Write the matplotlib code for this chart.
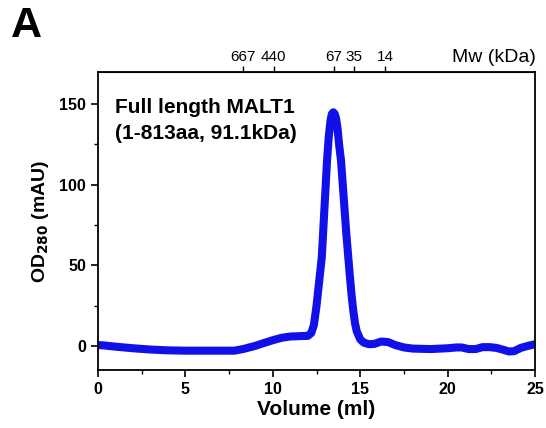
import matplotlib
matplotlib.use("Agg")
import matplotlib.pyplot as plt

plt.rcParams['font.family'] = ['Liberation Sans', 'DejaVu Sans']

volume = [0, 0.3, 1, 2, 3, 4, 5, 6, 7, 7.8, 8.3, 9, 9.5, 10, 10.5, 11, 11.5, 12,
          12.2, 12.35, 12.5, 12.65, 12.8, 13.0, 13.1, 13.2, 13.3, 13.38, 13.46, 13.54,
          13.62, 13.7, 13.8, 13.9, 14.0, 14.1, 14.2, 14.3, 14.4, 14.5, 14.6, 14.7,
          14.8, 15.0, 15.2, 15.5, 15.8, 16.2, 16.6, 17, 17.5, 18, 19, 20, 20.5,
          20.8, 21.2, 21.6, 22, 22.4, 22.8, 23.2, 23.5, 23.8, 24.2, 24.6, 25]
od280 = [0.5, 0.3, -0.5, -1.5, -2.3, -2.8, -3, -3, -3, -3, -2, 0, 1.8, 3.5, 5, 5.8, 6, 6.2,
         8, 13, 25, 40, 55, 95, 115, 130, 140, 144, 145, 144,
         141, 135, 124, 115, 100, 85, 70, 57, 44, 32, 22, 14,
         9, 4, 2, 1, 1.2, 2.7, 2.3, 0.5, -1, -1.7, -2, -1.5, -1,
         -1, -2, -2, -0.8, -0.8, -1.3, -2.5, -3.5, -3.3, -1.2, 0, 1]

mw_labels = ["667", "440", "67", "35", "14"]
mw_volumes = [8.3, 10.05, 13.5, 14.65, 16.42]

fig = plt.figure(figsize=(5.46, 4.28), dpi=100)
ax = fig.add_axes([0.1795, 0.1355, 0.8005, 0.6963])
ax.plot(volume, od280, color='#1010e8', lw=5.8, solid_joinstyle='round',
        solid_capstyle='butt')
ax.set_xlim(0, 25)
ax.set_ylim(-15, 170)
ax.set_xticks([0, 5, 10, 15, 20, 25])
ax.set_xticks([2.5, 7.5, 12.5, 17.5, 22.5], minor=True)
ax.set_yticks([0, 50, 100, 150])
ax.set_yticks([25, 75, 125], minor=True)
for lab in ax.get_xticklabels() + ax.get_yticklabels():
    lab.set_fontweight('bold')
ax.tick_params(axis='both', which='major', labelsize=11.5, length=5, width=1.2)
ax.tick_params(axis='both', which='minor', length=3, width=1)
for s in ax.spines.values():
    s.set_linewidth(1.3)
ax.set_xlabel("Volume (ml)", fontsize=15, fontweight='bold', labelpad=2)
ax.set_ylabel("OD$_{\\mathbf{280}}$ (mAU)", fontsize=14, fontweight='bold', labelpad=6)

top = ax.secondary_xaxis('top')
top.set_xticks(mw_volumes)
top.set_xticklabels(mw_labels)
top.tick_params(axis='x', length=4, width=1, labelsize=11, pad=1.5)
top.xaxis.set_minor_locator(matplotlib.ticker.NullLocator())

fig.text(0.905, 0.865, "Mw (kDa)", fontsize=14, ha='center', va='center')
ax.text(0.038, 0.88, "Full length MALT1", transform=ax.transAxes, fontsize=15,
        fontweight='bold', ha='left', va='center')
ax.text(0.038, 0.795, "(1-813aa, 91.1kDa)", transform=ax.transAxes, fontsize=15,
        fontweight='bold', ha='left', va='center')
fig.text(0.048, 0.939, "A", fontsize=31, fontweight='bold', ha='center', va='center')

fig.savefig("out.png", dpi=100)
